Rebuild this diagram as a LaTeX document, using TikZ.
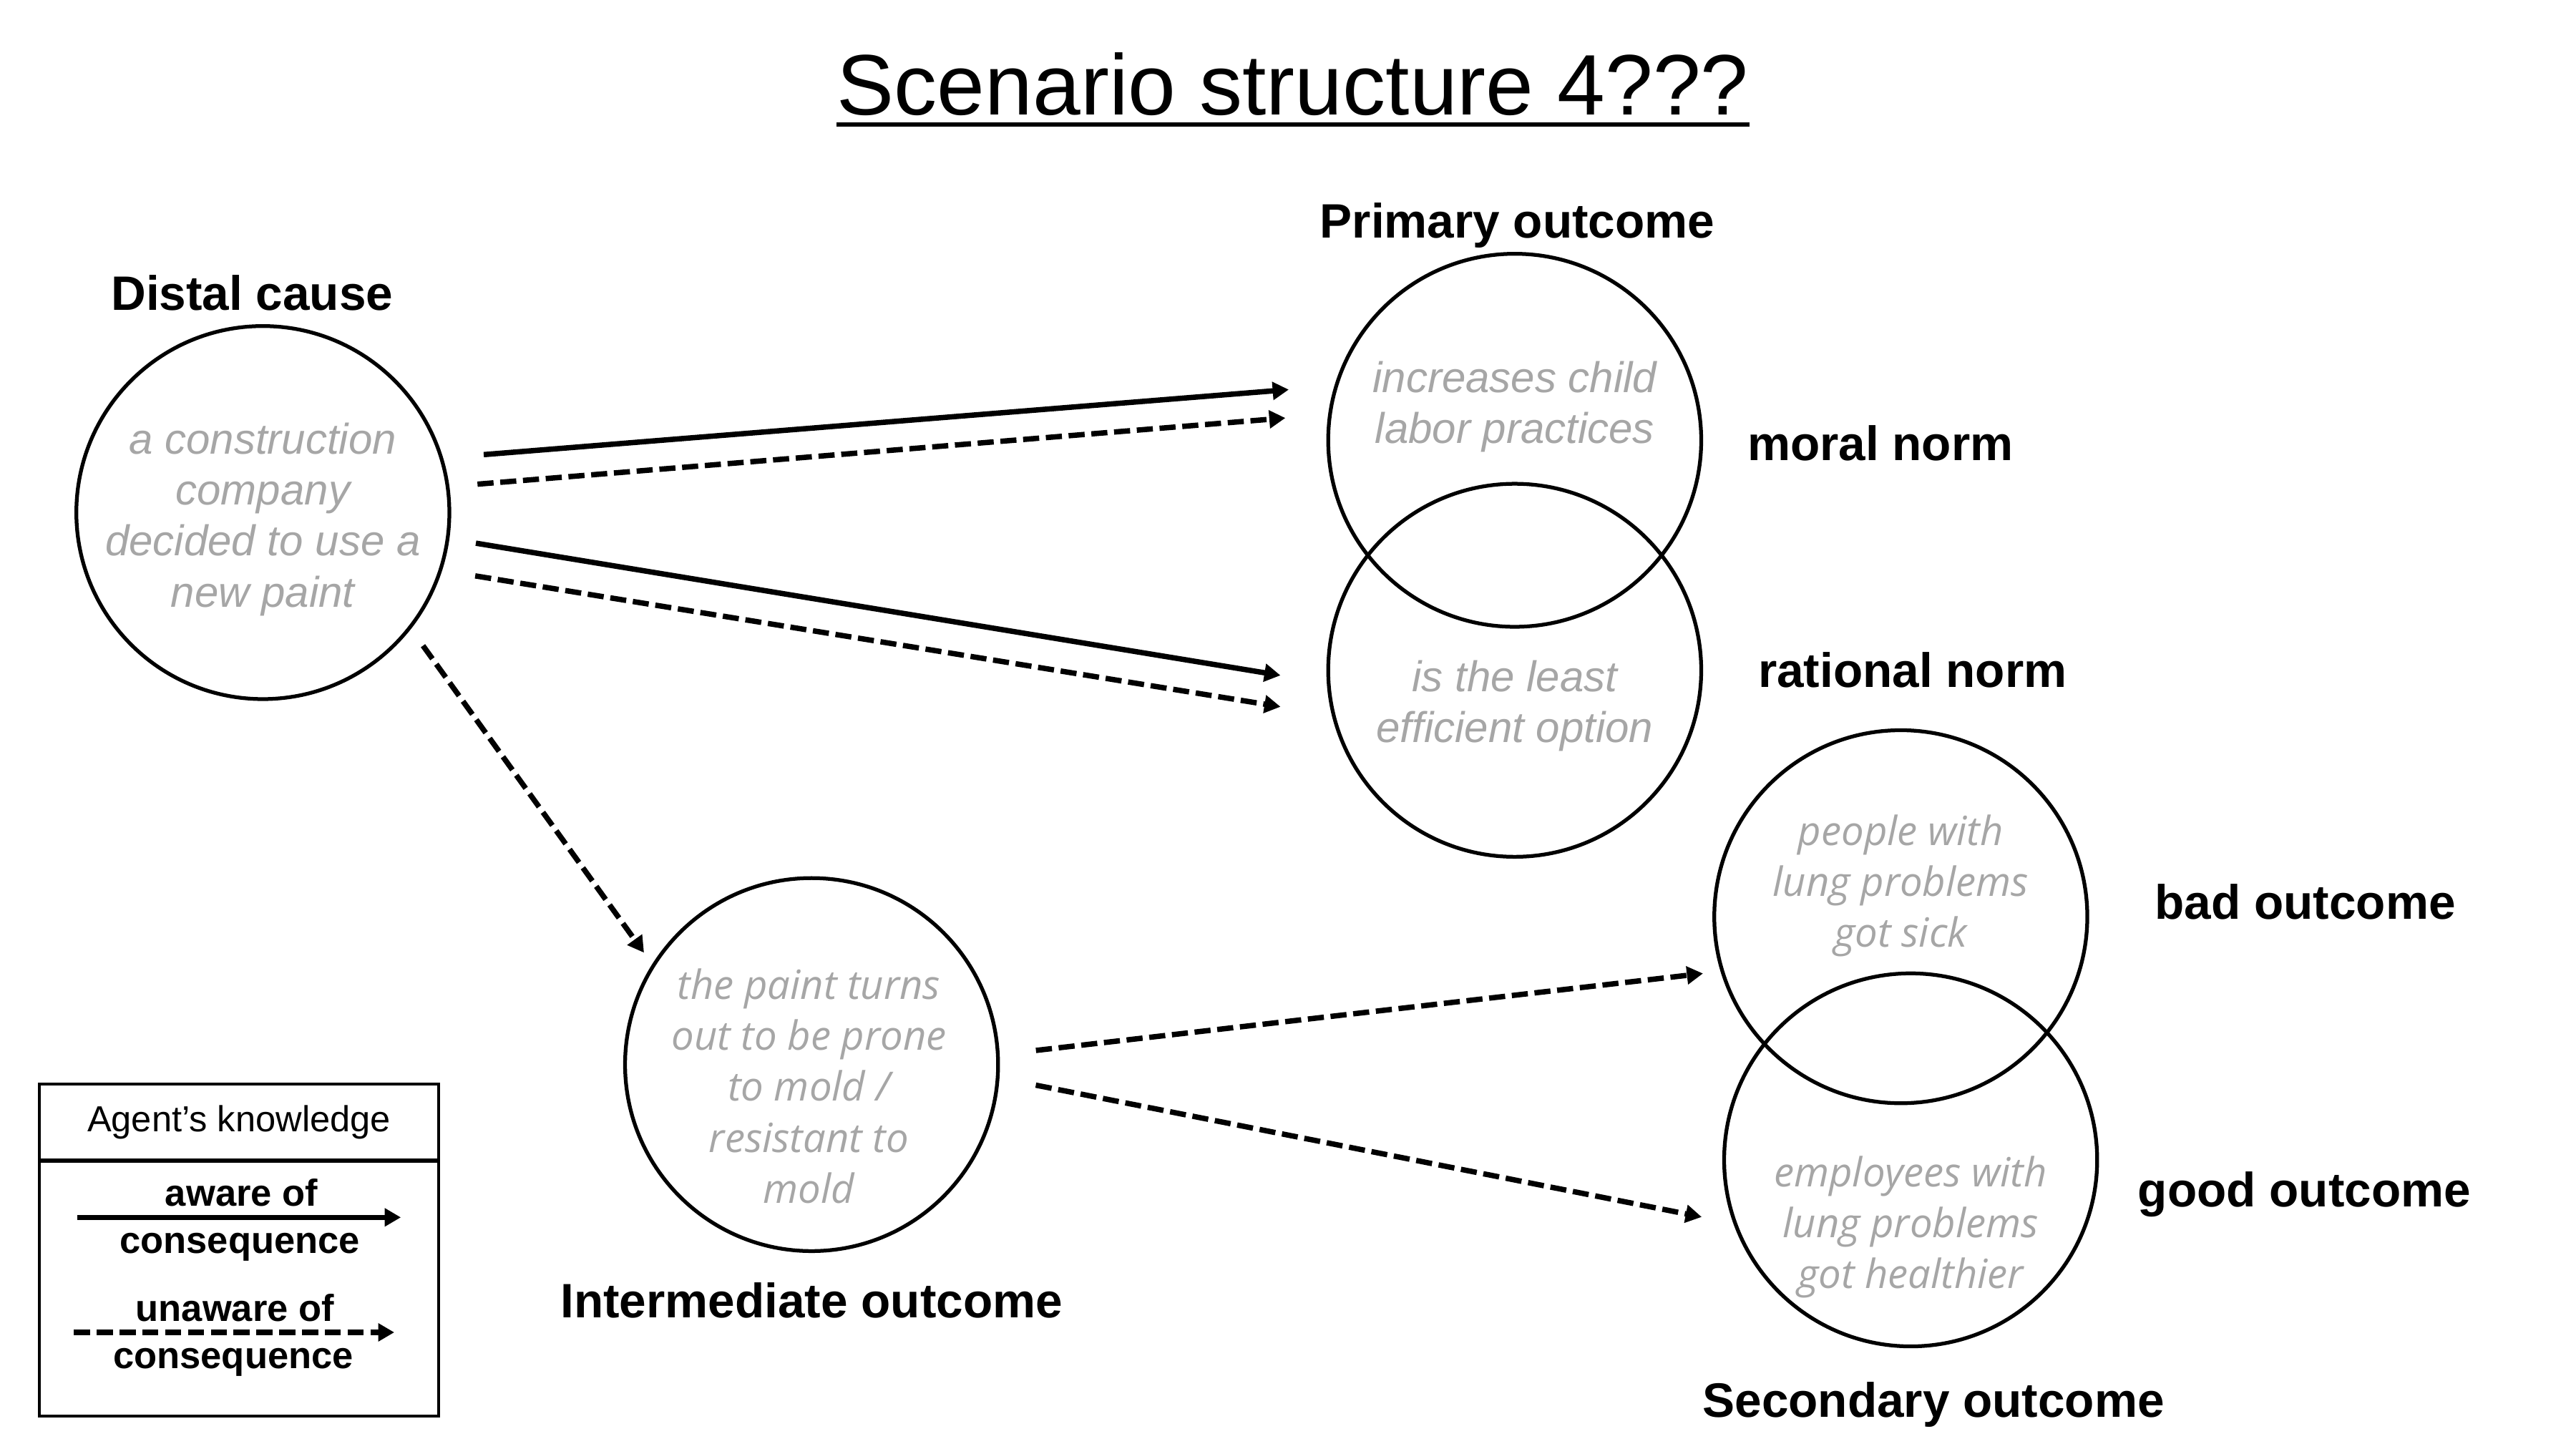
\documentclass[tikz,border=0pt]{standalone}
\usepackage{fontspec}
\setmainfont{Liberation Sans}
\newfontfamily\humanfont{Open Sans}
\usepackage{tikz}
\usepackage{xcolor}
\usetikzlibrary{positioning, arrows.meta}
\definecolor{textgrey}{RGB}{166,166,166}
\tikzstyle{bubble} = [circle, draw=black, line width=1.4pt, minimum size=139pt, inner sep=0pt, outer sep=0pt]
\tikzstyle{inside} = [text=textgrey, align=center, font=\fontsize{16}{19}\selectfont\itshape]
\tikzstyle{insidehum} = [inside, font=\fontsize{15}{19}\selectfont\humanfont\itshape]
\tikzstyle{heading} = [font=\fontsize{18}{22}\selectfont\bfseries, inner sep=0pt]
\tikzstyle{legendbox} = [rectangle, draw=black, line width=1.2pt, minimum width=148.8pt, font=\fontsize{13.5}{16}\selectfont]
\tikzstyle{legendtxt} = [font=\fontsize{14}{17}\selectfont\bfseries, inner sep=0pt]
\tikzstyle{aware} = [line width=2pt, -{Triangle[length=6pt,width=6.5pt]}]
\tikzstyle{unaware} = [aware, dash pattern=on 6pt off 2.5pt]

\begin{document}
\begin{tikzpicture}[x=0.6122pt, y=-0.6122pt]
\useasboundingbox (0,0) rectangle (1568,882);

\node (title) [anchor=base, inner sep=0pt, font=\fontsize{32}{38}\selectfont] at (787,70) {Scenario structure 4???};
\draw [line width=1.5pt] ([yshift=-3.5pt]title.base west) -- ([yshift=-3.5pt]title.base east);

% causes and outcomes
\node (distal) [bubble] at (160,312) {};
\node (moral) [bubble] at (922,268) {};
\node (rational) [bubble] at (922,408) {};
\node (inter) [bubble] at (494,648) {};
\node (bad) [bubble] at (1157,558) {};
\node (good) [bubble] at (1163,706) {};

\node (distaltxt) [inside, yshift=-2.5pt] at (distal) {a construction\\company\\decided to use a\\new paint};
\node (moraltxt) [inside, yshift=12.5pt] at (moral) {increases child\\labor practices};
\node (rationaltxt) [inside, yshift=-13.2pt] at (rational) {is the least\\efficient option};
\node (intertxt) [insidehum, yshift=-8pt, xshift=-1pt] at (inter) {the paint turns\\out to be prone\\to mold /\\resistant to\\mold};
\node (badtxt) [insidehum, yshift=11.5pt] at (bad) {people with\\lung problems\\got sick};
\node (goodtxt) [insidehum, yshift=-25pt] at (good) {employees with\\lung problems\\got healthier};

% labels
\node (distallbl) [heading, above=5.5pt of distal, xshift=-4pt] {Distal cause};
\node (primarylbl) [heading, above=2pt of moral, xshift=1pt] {Primary outcome};
\node (morallbl) [heading, right=17pt of moral, yshift=-1pt] {moral norm};
\node (rationallbl) [heading, right=21pt of rational] {rational norm};
\node (interlbl) [heading, below=11.5pt of inter] {Intermediate outcome};
\node (badlbl) [heading, right=25pt of bad, yshift=5.5pt] {bad outcome};
\node (goodlbl) [heading, right=15pt of good, yshift=-13pt] {good outcome};
\node (secondarylbl) [heading, below=13pt of good, xshift=8.5pt] {Secondary outcome};

% arrows
\draw [aware, shorten <=15.9pt, shorten >=17.8pt] (distal.17) -- (moral.163);
\draw [unaware, shorten <=11.2pt, shorten >=16.7pt] (distal.8) -- (moral.172);
\draw [aware, shorten <=10.7pt, shorten >=18.2pt] (distal.352) -- (rational.184);
\draw [unaware, shorten <=13.2pt, shorten >=20.1pt] (distal.342) -- (rational.194);
\draw [unaware, shorten <=8.4pt, shorten >=6pt] (distal.322) -- (inter.148);
\draw [unaware, shorten <=14.3pt, shorten >=7.3pt] (inter.3) -- (bad.197);
\draw [unaware, shorten <=14.5pt, shorten >=12.8pt] (inter.356) -- (good.200);

% legend
\node (knowhead) [legendbox, minimum height=28.2pt] at (145.5,683) {Agent’s knowledge};
\node (knowbody) [legendbox, minimum height=94.9pt] at (145.5,784.5) {};
\coordinate (awarefrom) at (47,741);
\coordinate (awareto) at (244,741);
\coordinate (unawarefrom) at (45,811);
\coordinate (unawareto) at (240,811);
\draw [aware] (awarefrom) -- (awareto);
\draw [unaware] (unawarefrom) -- (unawareto);
\node (awaretop) [legendtxt] at (147,726) {aware of};
\node (awarebot) [legendtxt] at (146,759) {consequence};
\node (unawaretop) [legendtxt] at (143,796) {unaware of};
\node (unawarebot) [legendtxt] at (142,829) {consequence};
\end{tikzpicture}
\end{document}
